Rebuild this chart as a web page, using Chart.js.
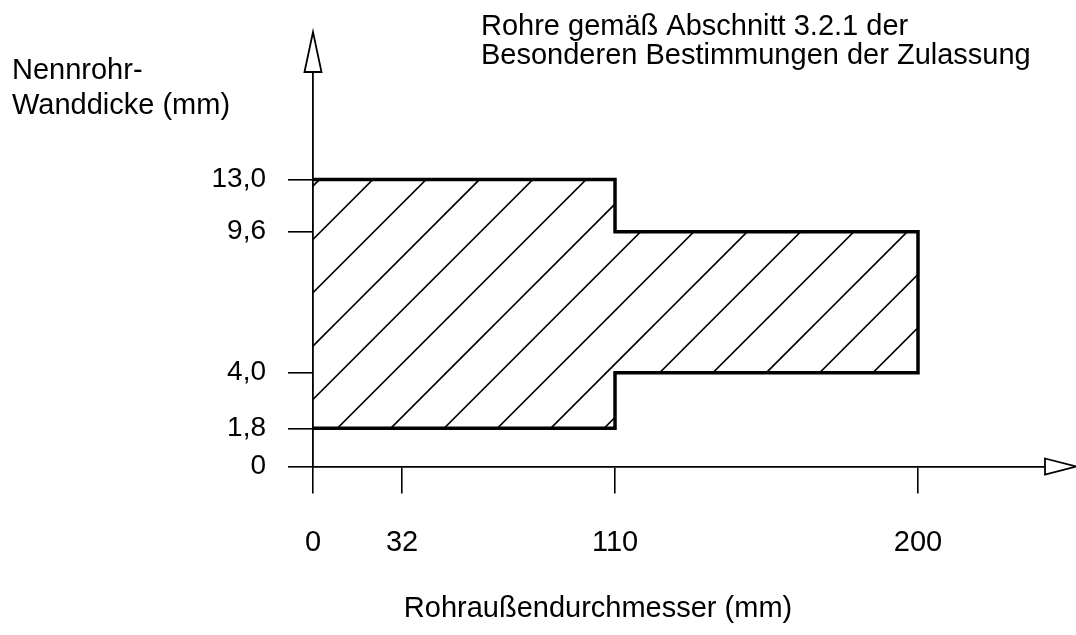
<!DOCTYPE html>
<html>
<head>
<meta charset="utf-8">
<script src="https://cdn.jsdelivr.net/npm/chart.js@4/dist/chart.umd.min.js"></script>
<style>
  html, body { margin: 0; padding: 0; background: #fff; }
  canvas { display: block; }
</style>
</head>
<body>
<canvas id="chart" width="1076" height="635"></canvas>
<script>
// outline of the permitted area (outer diameter / wall thickness, mm)
const outerDiameter = [0, 110, 110, 200, 200, 110, 110, 0];
const wallThickness = [13.0, 13.0, 9.6, 9.6, 4.0, 4.0, 1.8, 1.8];

const xTickValues = [0, 32, 110, 200];
const xTickLabels = ['0', '32', '110', '200'];
const yTickValues = [0, 1.8, 4.0, 9.6, 13.0];
const yTickLabels = ['0', '1,8', '4,0', '9,6', '13,0'];

const xTitle = 'Rohraußendurchmesser (mm)';
const yTitleLines = ['Nennrohr-', 'Wanddicke (mm)'];
const noteLines = ['Rohre gemäß Abschnitt 3.2.1 der', 'Besonderen Bestimmungen der Zulassung'];

const FONT = '"Liberation Sans", Arial, Helvetica, sans-serif';

// the drawing is not to scale: each axis is linear between its labelled ticks
const scaleKnots = {
  x: [[0, 0], [32, 0.1216], [110, 0.4126], [200, 0.8265], [250, 1]],
  y: [[0, 0], [1.8, 0.0968], [4.0, 0.2378], [9.6, 0.5952], [13.0, 0.7275], [16, 1]]
};

class PiecewiseScale extends Chart.LinearScale {
  decimalFor(value) {
    const k = scaleKnots[this.id];
    for (let i = 1; i < k.length; i++) {
      if (value <= k[i][0] || i === k.length - 1) {
        const [v0, d0] = k[i - 1];
        const [v1, d1] = k[i];
        return d0 + (value - v0) / (v1 - v0) * (d1 - d0);
      }
    }
    return 0;
  }
  getPixelForValue(value) {
    return this.getPixelForDecimal(this.decimalFor(value));
  }
  getValueForPixel(pixel) {
    const d = this.getDecimalForPixel(pixel);
    const k = scaleKnots[this.id];
    for (let i = 1; i < k.length; i++) {
      if (d <= k[i][1] || i === k.length - 1) {
        const [v0, d0] = k[i - 1];
        const [v1, d1] = k[i];
        return v0 + (d - d0) / (d1 - d0) * (v1 - v0);
      }
    }
    return 0;
  }
}
PiecewiseScale.id = 'piecewise';
PiecewiseScale.defaults = Chart.LinearScale.defaults;
Chart.register(PiecewiseScale);

// diagonal hatching, 53.3 px apart
function makeHatch() {
  const size = 160;
  const c = document.createElement('canvas');
  c.width = size;
  c.height = size;
  const g = c.getContext('2d');
  g.strokeStyle = '#000';
  g.lineWidth = 1.6;
  for (let k = -1; k <= 6; k++) {
    const s = 19 + k * size / 3;
    g.beginPath();
    g.moveTo(s + 20, -20);
    g.lineTo(-20, s + 20);
    g.stroke();
  }
  return g.createPattern(c, 'repeat');
}

const extras = {
  id: 'extras',
  afterDraw(chart) {
    const { ctx, chartArea: a } = chart;
    ctx.save();
    ctx.lineWidth = 1.8;
    ctx.strokeStyle = '#000';
    ctx.fillStyle = '#fff';
    ctx.lineJoin = 'miter';

    // arrow heads
    ctx.beginPath();
    ctx.moveTo(a.left - 8.5, a.top);
    ctx.lineTo(a.left, a.top - 40);
    ctx.lineTo(a.left + 8.5, a.top);
    ctx.closePath();
    ctx.fill();
    ctx.stroke();

    ctx.beginPath();
    ctx.moveTo(a.right, a.bottom - 8);
    ctx.lineTo(a.right + 31, a.bottom);
    ctx.lineTo(a.right, a.bottom + 8);
    ctx.closePath();
    ctx.fill();
    ctx.stroke();

    ctx.fillStyle = '#000';
    ctx.font = '29px ' + FONT;
    ctx.textBaseline = 'alphabetic';
    ctx.textAlign = 'left';
    ctx.fillText(yTitleLines[0], 12, 79);
    ctx.fillText(yTitleLines[1], 12, 114);
    ctx.fillText(noteLines[0], 481, 35);
    ctx.fillText(noteLines[1], 481, 64);
    ctx.textAlign = 'center';
    ctx.fillText(xTitle, 598, 617);
    ctx.restore();
  }
};

new Chart(document.getElementById('chart'), {
  type: 'line',
  data: {
    datasets: [{
      data: outerDiameter.map((x, i) => ({ x: x, y: wallThickness[i] })),
      borderColor: '#000',
      borderWidth: 3.5,
      borderJoinStyle: 'miter',
      backgroundColor: makeHatch(),
      fill: 'shape',
      pointRadius: 0,
      tension: 0
    }]
  },
  options: {
    responsive: false,
    animation: false,
    layout: { padding: { left: 0, top: 72, right: 31, bottom: 0 } },
    plugins: {
      legend: { display: false },
      tooltip: { enabled: false }
    },
    scales: {
      x: {
        type: 'piecewise',
        min: 0,
        max: 250,
        afterFit: s => { s.height = 168.5; },
        afterBuildTicks: s => { s.ticks = xTickValues.map(v => ({ value: v })); },
        grid: { drawOnChartArea: false, tickLength: 27, color: '#000', lineWidth: 1.6 },
        border: { display: true, color: '#000', width: 1.8 },
        ticks: {
          autoSkip: false,
          maxRotation: 0,
          padding: 32,
          color: '#000',
          font: { family: FONT, size: 29 },
          callback: (v, i) => xTickLabels[i]
        }
      },
      y: {
        type: 'piecewise',
        min: 0,
        max: 16,
        afterFit: s => { s.width = 313; },
        afterBuildTicks: s => { s.ticks = yTickValues.map(v => ({ value: v })); },
        grid: { drawOnChartArea: false, tickLength: 25, color: '#000', lineWidth: 1.6 },
        border: { display: true, color: '#000', width: 1.8 },
        ticks: {
          autoSkip: false,
          padding: 22,
          color: '#000',
          font: { family: FONT, size: 28 },
          callback: (v, i) => yTickLabels[i]
        }
      }
    }
  },
  plugins: [extras]
});
</script>
</body>
</html>
